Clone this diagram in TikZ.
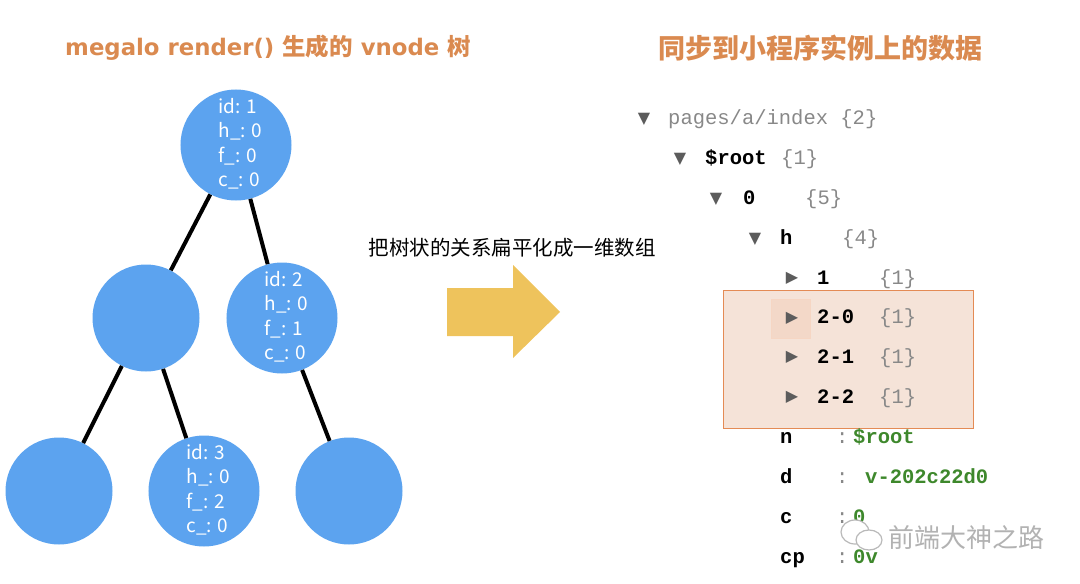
\documentclass[tikz,border=0pt]{standalone}
\usepackage{fontspec}
\setmonofont{Liberation Mono}
\newfontfamily\cjk{Noto Sans CJK SC}
\newfontfamily\symb{DejaVu Sans}
\definecolor{vblue}{RGB}{92,163,239}
\definecolor{torange}{RGB}{218,138,80}
\definecolor{aryellow}{RGB}{238,195,92}
\definecolor{hfill}{RGB}{245,227,216}
\definecolor{hborder}{RGB}{228,139,85}
\definecolor{vgreen}{RGB}{62,136,44}
\definecolor{cntgray}{RGB}{136,136,136}
\definecolor{trigray}{RGB}{92,92,92}
% four lines of vnode fields, nudged right a little inside the circle
\newcommand{\vfields}[4]{\hspace*{9pt}\begin{tabular}{@{}l@{}}
  id: #1\\h\_: #2\\f\_: #3\\c\_: #4\end{tabular}}
\newcommand{\lat}[1]{{\symb\bfseries\fontsize{22.8}{28}\selectfont #1}}

\begin{document}
\begin{tikzpicture}[
  x=1pt,y=-1pt,
  vnode/.style={circle,fill=vblue,minimum size=107pt,inner sep=0pt,text=white,
                font=\cjk\fontsize{19}{24.5}\selectfont},
  link/.style={line width=4pt,black},
  title/.style={font=\cjk\bfseries\fontsize{23.5}{28}\selectfont,text=torange},
  tri/.style={font=\symb\fontsize{16}{18}\selectfont,text=trigray,inner sep=0pt},
  key/.style={anchor=base west,inner sep=0pt,
              font=\ttfamily\bfseries\fontsize{20.5}{24}\selectfont},
  cnt/.style={key,font=\ttfamily\fontsize{20.5}{24}\selectfont,text=cntgray},
  val/.style={key,text=vgreen},
]
\useasboundingbox (0,0) rectangle (1080,584);

% titles
\node[title] (ltitle) at (268,48)
  {\lat{megalo render() }生成的\lat{ vnode }树};
\node[title,font=\cjk\bfseries\fontsize{27}{32}\selectfont] (rtitle) at (820,48)
  {同步到小程序实例上的数据};

% the vnode tree
\node[vnode] (n1) at (236,145) {\vfields{1}{0}{0}{0}};
\node[vnode] (n1a) at (146,318) {};
\node[vnode] (n2) at (282,318) {\vfields{2}{0}{1}{0}};
\node[vnode] (n1aa) at (59,491) {};
\node[vnode] (n3) at (204,491) {\vfields{3}{0}{2}{0}};
\node[vnode] (n2a) at (349,491) {};

\draw[link] (n1) -- (n1a);
\draw[link] (n1) -- (n2);
\draw[link] (n1a) -- (n1aa);
\draw[link] (n1a) -- (n3);
\draw[link] (n2) -- (n2a);

% flatten arrow
\node[font=\cjk\fontsize{20.5}{24}\selectfont] (flat) at (512,248)
  {把树状的关系扁平化成一维数组};
\fill[aryellow] (447,288) -- (513,288) -- (513,265) -- (560,312)
  -- (513,358) -- (513,336) -- (447,336) -- cycle;

% synced data
\node[draw=hborder,fill=hfill,line width=1pt,anchor=north west,
      minimum width=250pt,minimum height=138pt] (sel) at (723,290) {};
\node[draw=hborder!35,fill=hborder!12!hfill,minimum size=39pt,inner sep=0pt]
  (cur) at (791,319) {};

\node[tri] (t0) at (644,119) {▼};
\node[key,text=cntgray,font=\ttfamily\fontsize{20.5}{24}\selectfont] (page) at (668,124)
  {pages/a/index {\{2\}}};
\node[tri] (t1) at (680,159) {▼};
\node[key] (root) at (705,164) {\$root};
\node[cnt] (root c) at (781,164) {\{1\}};
\node[tri] (t2) at (716,199) {▼};
\node[key] (zero) at (743,204) {0};
\node[cnt] (zero c) at (805,204) {\{5\}};
\node[tri] (t3) at (755,239) {▼};
\node[key] (h) at (780,244) {h};
\node[cnt] (h c) at (842,244) {\{4\}};
\node[tri] (t4) at (792,278) {▶};
\node[key] (h1) at (817,284) {1};
\node[cnt] (h1 c) at (879,284) {\{1\}};
\node[tri] (t5) at (792,318) {▶};
\node[key] (h20) at (817,323) {2-0};
\node[cnt] (h20 c) at (879,323) {\{1\}};
\node[tri] (t6) at (792,357) {▶};
\node[key] (h21) at (817,363) {2-1};
\node[cnt] (h21 c) at (879,363) {\{1\}};
\node[tri] (t7) at (792,397) {▶};
\node[key] (h22) at (817,403) {2-2};
\node[cnt] (h22 c) at (879,403) {\{1\}};

\node[key] (n) at (780,443) {n};
\node[cnt] (n s) at (836,443) {:};
\node[val] (n v) at (853,443) {\$root};
\node[key] (d) at (780,483) {d};
\node[cnt] (d s) at (836,483) {:};
\node[val] (d v) at (865,483) {v-202c22d0};
\node[key] (c) at (780,523) {c};
\node[cnt] (c s) at (836,523) {:};
\node[val] (c v) at (853,523) {0};
\node[key] (cp) at (780,563) {cp};
\node[cnt] (cp s) at (836,563) {:};
\node[val] (cp v) at (853,563) {0v};

% watermark
\draw[gray!55,fill=white,line width=1.2pt] (855,532) ellipse (14 and 12);
\draw[gray!55,fill=white,line width=1.2pt] (869,540) ellipse (13 and 10);
\node[font=\cjk\fontsize{26}{30}\selectfont,text=gray!60] (mark) at (966,538)
  {前端大神之路};

\end{tikzpicture}
\end{document}
